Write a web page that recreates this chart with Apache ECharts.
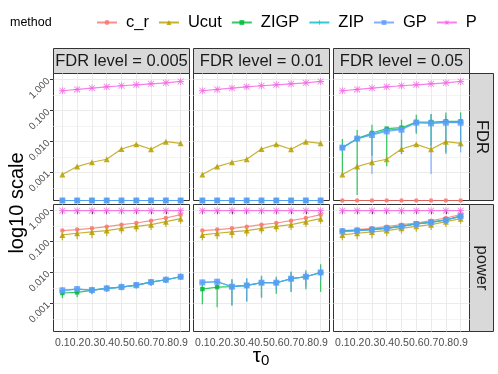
<!DOCTYPE html>
<html>
<head>
<meta charset="utf-8">
<script src="https://cdn.jsdelivr.net/npm/echarts@6/dist/echarts.min.js"></script>
<style>
  html, body { margin: 0; padding: 0; background: #fff; }
  #chart { width: 498px; height: 374px; }
</style>
</head>
<body>
<div id="chart"></div>
<script>
// ---- data ----
const methods = ['c_r', 'Ucut', 'ZIGP', 'ZIP', 'GP', 'P'];
const colors = ['#F8766D', '#B79F00', '#00BA38', '#00BFC4', '#619CFF', '#F564E3'];
const tauLabels = ['0.1', '0.2', '0.3', '0.4', '0.5', '0.6', '0.7', '0.8', '0.9'];
const fdrLevels = ['FDR level = 0.005', 'FDR level = 0.01', 'FDR level = 0.05'];
const measures = ['FDR', 'power'];
const yBreaks = [0.001, 0.01, 0.1, 1];
const yTickLabels = ['0.001', '0.010', '0.100', '1.000'];

const zeros = [0, 0, 0, 0, 0, 0, 0, 0, 0];

// FDR row
const fdrP = [0.44, 0.484, 0.535, 0.59, 0.637, 0.685, 0.738, 0.794, 0.877];
const fdrUcut = [0.00087, 0.00157, 0.00216, 0.0027, 0.0058, 0.0082, 0.00566, 0.0100, 0.00883];
const fdr05ZIGP = [0.0064, 0.0125, 0.019, 0.0262, 0.0282, 0.043, 0.043, 0.0452, 0.0452];
const fdr05ZIP = [0.0064, 0.0125, 0.0172, 0.0235, 0.026, 0.0415, 0.040, 0.042, 0.042];
const fdr05GP = [0.0064, 0.0125, 0.0164, 0.0215, 0.0243, 0.0409, 0.0389, 0.0409, 0.0409];
const fdr05ZIGPlo = [0.0008, 0.00019, 0.0035, 0.0016, 0.004, 0.018, 0.0074, 0.0045, 0.0066];
const fdr05ZIGPhi = [0.0122, 0.0238, 0.0353, 0.0304, 0.0511, 0.0741, 0.078, 0.0879, 0.0879];
const fdr05GPlo = [0.0048, 0.0095, 0.0009, 0.0165, 0.004, 0.02, 0.0009, 0.004, 0.0045];
const fdr05GPhi = [0.0085, 0.016, 0.021, 0.027, 0.029, 0.054, 0.078, 0.069, 0.069];

// power row
const powP = [1, 1, 1, 1, 1, 1, 1, 1, 1];
const powCr = [0.228, 0.245, 0.270, 0.306, 0.355, 0.401, 0.477, 0.581, 0.743];
const powUcut = [0.165, 0.187, 0.206, 0.228, 0.270, 0.313, 0.355, 0.443, 0.553];
const powUcutLo = [0.11, 0.12, 0.13, 0.15, 0.18, 0.21, 0.24, 0.30, 0.38];
const powUcutHi = [0.2, 0.22, 0.235, 0.26, 0.3, 0.35, 0.4, 0.5, 0.65];

const pow005ZIGP = [0.0022, 0.00231, 0.00268, 0.0031, 0.00343, 0.00397, 0.00496, 0.00589, 0.00736];
const pow005ZIP = [0.00268, 0.00295, 0.00274, 0.0031, 0.00343, 0.00397, 0.00496, 0.00589, 0.00736];
const pow005GP = [0.00268, 0.00295, 0.00274, 0.0031, 0.00343, 0.00397, 0.00496, 0.00589, 0.00736];
const pow005ZIGPlo = [0.0015, 0.0016, 0.002, 0.0024, 0.0027, 0.0031, 0.0038, 0.0046, 0.0058];
const pow005ZIGPhi = [0.0026, 0.0029, 0.0034, 0.0039, 0.0044, 0.005, 0.0062, 0.0074, 0.0092];
const pow005GPlo = [0.0021, 0.0023, 0.0021, 0.0024, 0.0027, 0.0031, 0.0038, 0.0046, 0.0058];
const pow005GPhi = [0.0034, 0.0037, 0.0035, 0.0039, 0.0044, 0.005, 0.0062, 0.0074, 0.0092];

const pow01ZIGP = [0.00295, 0.00342, 0.00352, 0.00387, 0.00473, 0.00473, 0.00637, 0.00738, 0.01014];
const pow01ZIP = [0.00484, 0.00509, 0.00352, 0.00387, 0.00473, 0.00473, 0.00637, 0.00738, 0.01014];
const pow01GP = [0.00484, 0.00509, 0.00352, 0.00387, 0.00473, 0.00473, 0.00637, 0.00738, 0.01014];
const pow01ZIGPlo = [0.00095, 0.00076, 0.0009, 0.0012, 0.0016, 0.0021, 0.0024, 0.0029, 0.0024];
const pow01ZIGPhi = [0.0045, 0.0046, 0.006, 0.0065, 0.0077, 0.0074, 0.0107, 0.012, 0.0187];
const pow01GPlo = [0.004, 0.0042, 0.00084, 0.00116, 0.0015, 0.0028, 0.0024, 0.0035, 0.0057];
const pow01GPhi = [0.0058, 0.006, 0.0062, 0.0066, 0.008, 0.0066, 0.0107, 0.0105, 0.0155];

const pow05ZIGP = [0.22, 0.232, 0.25, 0.275, 0.318, 0.378, 0.43, 0.51, 0.67];
const pow05ZIP = [0.216, 0.228, 0.245, 0.270, 0.313, 0.372, 0.422, 0.501, 0.658];
const pow05GP = [0.216, 0.228, 0.245, 0.270, 0.313, 0.372, 0.422, 0.501, 0.658];

// [row][col] -> one array per method
const panelValues = [
  [
    [zeros, fdrUcut, zeros, zeros, zeros, fdrP],
    [zeros, fdrUcut, zeros, zeros, zeros, fdrP],
    [zeros, fdrUcut, fdr05ZIGP, fdr05ZIP, fdr05GP, fdrP]
  ],
  [
    [powCr, powUcut, pow005ZIGP, pow005ZIP, pow005GP, powP],
    [powCr, powUcut, pow01ZIGP, pow01ZIP, pow01GP, powP],
    [powCr, powUcut, pow05ZIGP, pow05ZIP, pow05GP, powP]
  ]
];
// error bars: [method index, lower, upper]
const panelErrors = [
  [[], [], [[2, fdr05ZIGPlo, fdr05ZIGPhi], [4, fdr05GPlo, fdr05GPhi]]],
  [
    [[1, powUcutLo, powUcutHi], [2, pow005ZIGPlo, pow005ZIGPhi], [4, pow005GPlo, pow005GPhi]],
    [[1, powUcutLo, powUcutHi], [2, pow01ZIGPlo, pow01ZIGPhi], [4, pow01GPlo, pow01GPhi]],
    [[1, powUcutLo, powUcutHi]]
  ]
];

// ---- layout ----
const Y_MIN = -3.9, Y_MAX = 0.2;
const colX = [53.5, 193.5, 333.5];
const colW = 136;
const rowY = [73.5, 204.5];
const rowH = [127, 127];
const FONT = '"Liberation Sans", Arial, sans-serif';

const toLog = v => (v > 0 ? Math.max(Math.log10(v), Y_MIN) : Y_MIN);
const xVals = tauLabels.map((_, i) => i + 1);
const majorLogs = yBreaks.map(v => Math.log10(v));
const minorLogs = majorLogs.map(v => v - 0.5).filter(v => v > Y_MIN);

const asterisk = 'path://M4.4,0H5.6V10H4.4Z M0,4.4H10V5.6H0Z M1.2,0.4L9.6,8.8L8.8,9.6L0.4,1.2Z M8.8,0.4L9.6,1.2L1.2,9.6L0.4,8.8Z';
const plus = 'path://M4.3,0H5.7V4.3H10V5.7H5.7V10H4.3V5.7H0V4.3H4.3Z';
const symbols = ['circle', 'triangle', 'rect', plus, 'rect', asterisk];
const symbolSizes = [4.5, 6, 4.5, 6, 6, 7];

const grids = [], xAxes = [], yAxes = [], minorY = [], series = [], graphics = [];

for (let r = 0; r < 2; r++) {
  for (let c = 0; c < 3; c++) {
    const gi = r * 3 + c;
    grids.push({
      left: colX[c], top: rowY[r], width: colW, height: rowH[r],
      show: true, backgroundColor: '#fff', borderColor: '#333333', borderWidth: 1
    });
    xAxes.push({
      gridIndex: gi, type: 'value', min: 0.4, max: 9.6,
      axisLine: { show: false },
      axisTick: { show: r === 1, customValues: xVals, length: 3.5, lineStyle: { color: '#333333' } },
      axisLabel: {
        show: r === 1, customValues: xVals, margin: 6,
        formatter: v => tauLabels[Math.round(v) - 1],
        color: '#4D4D4D', fontSize: 10.5, fontFamily: FONT
      },
      splitLine: { show: true, lineStyle: { color: '#EBEBEB', width: 1 } }
    });
    yAxes.push({
      gridIndex: gi, type: 'value', min: Y_MIN, max: Y_MAX,
      axisLine: { show: false },
      axisTick: { show: c === 0, customValues: majorLogs, length: 3.5, lineStyle: { color: '#333333' } },
      axisLabel: {
        show: c === 0, customValues: majorLogs, rotate: 45, margin: 5,
        formatter: v => yTickLabels[majorLogs.findIndex(m => Math.abs(m - v) < 1e-6)],
        color: '#4D4D4D', fontSize: 10, fontFamily: FONT
      },
      splitLine: { show: true, lineStyle: { color: '#EBEBEB', width: 1 } }
    });
    minorY.push({
      gridIndex: gi, type: 'value', min: Y_MIN, max: Y_MAX, position: 'left',
      axisLine: { show: false },
      axisTick: { show: false, customValues: minorLogs },
      axisLabel: { show: false },
      splitLine: { show: true, lineStyle: { color: '#F4F4F4', width: 1 } }
    });

    const vals = panelValues[r][c];
    const errs = panelErrors[r][c];
    methods.forEach((m, mi) => {
      series.push({
        name: m, type: 'line', xAxisIndex: gi, yAxisIndex: gi,
        data: vals[mi].map((v, i) => [i + 1, toLog(v)]),
        symbol: symbols[mi], symbolSize: symbolSizes[mi],
        lineStyle: { color: colors[mi], width: 1.2, opacity: 0.8 },
        itemStyle: { color: colors[mi], opacity: 0.85 },
        emphasis: { disabled: true }
      });
      errs.filter(e => e[0] === mi).forEach(e => {
        const lo = e[1], hi = e[2];
        series.push({
          name: m, type: 'custom', xAxisIndex: gi, yAxisIndex: gi, silent: true,
          data: lo.map((l, i) => [i + 1, toLog(l), toLog(hi[i])]),
          encode: { x: 0, y: [1, 2] },
          renderItem: (params, api) => {
            const a = api.coord([api.value(0), api.value(1)]);
            const b = api.coord([api.value(0), api.value(2)]);
            return {
              type: 'line',
              shape: { x1: a[0], y1: a[1], x2: b[0], y2: b[1] },
              style: { stroke: colors[mi], lineWidth: 1.3, opacity: 0.75 }
            };
          }
        });
      });
    });
  }
}

// facet strips
fdrLevels.forEach((lab, c) => {
  graphics.push({
    type: 'rect', shape: { x: colX[c], y: 48.5, width: colW, height: 25 },
    style: { fill: '#D9D9D9', stroke: '#333333', lineWidth: 1 }
  });
  graphics.push({
    type: 'text', x: colX[c] + colW / 2, y: 61,
    style: { text: lab, fill: '#1A1A1A', font: '16.5px ' + FONT, align: 'center', verticalAlign: 'middle' }
  });
});
measures.forEach((lab, r) => {
  graphics.push({
    type: 'rect', shape: { x: 469.5, y: rowY[r], width: 24, height: rowH[r] },
    style: { fill: '#D9D9D9', stroke: '#333333', lineWidth: 1 }
  });
  graphics.push({
    type: 'text', x: 481.5, y: rowY[r] + rowH[r] / 2, rotation: -Math.PI / 2,
    style: { text: lab, fill: '#1A1A1A', font: '16.5px ' + FONT, align: 'center', verticalAlign: 'middle' }
  });
});
// axis titles and legend title
graphics.push({
  type: 'text', x: 17, y: 203, rotation: Math.PI / 2,
  style: { text: 'log10 scale', fill: '#000', font: '20px ' + FONT, align: 'center', verticalAlign: 'middle' }
});
graphics.push({
  type: 'text', x: 261, y: 356,
  style: {
    text: '{a|τ}{b|0}', align: 'center', verticalAlign: 'middle',
    rich: {
      a: { fontSize: 21, fontFamily: FONT, fill: '#000' },
      b: { fontSize: 15, fontFamily: FONT, fill: '#000', padding: [9, 0, 0, 0] }
    }
  }
});
graphics.push({
  type: 'text', x: 10, y: 23,
  style: { text: 'method', fill: '#000', font: '12.5px ' + FONT, verticalAlign: 'middle' }
});

const chart = echarts.init(document.getElementById('chart'), null, { renderer: 'canvas' });
chart.setOption({
  animation: false,
  backgroundColor: '#fff',
  legend: {
    data: methods, left: 96, top: 14, padding: 0,
    itemWidth: 20, itemHeight: 6, itemGap: 9,
    selectedMode: false,
    textStyle: { fontSize: 16.5, fontFamily: FONT, color: '#000', padding: [0, 0, 0, 4] }
  },
  grid: grids,
  xAxis: xAxes,
  yAxis: yAxes.concat(minorY),
  series: series,
  graphic: graphics
});
</script>
</body>
</html>
